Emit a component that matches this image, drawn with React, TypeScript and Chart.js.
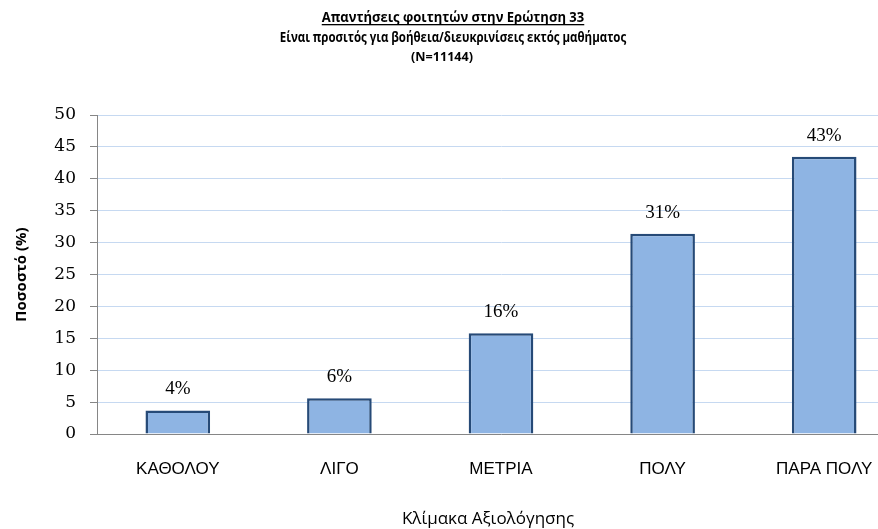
import { useEffect, useRef } from "react";
import { Chart, registerables } from "chart.js";

Chart.register(...registerables);

// Survey answers for question 33 (percent of students)
const categories = ["ΚΑΘΟΛΟΥ", "ΛΙΓΟ", "ΜΕΤΡΙΑ", "ΠΟΛΥ", "ΠΑΡΑ ΠΟΛΥ"];
const percentages = [3.7, 5.6, 15.8, 31.4, 43.45];
const yMin = 0;
const yMax = 50;
const yStep = 5;

const titleMain = "Απαντήσεις φοιτητών στην Ερώτηση 33";
const titleSub = "Είναι προσιτός για βοήθεια/διευκρινίσεις εκτός μαθήματος";
const titleCount = "(N=11144)";
const xAxisTitle = "Κλίμακα Αξιολόγησης";
const yAxisTitle = "Ποσοστό (%)";

const CANVAS_W = 905;
const CANVAS_H = 529;

// Draws text horizontally condensed around its centre, keeping the glyph height
function condensedText(ctx: CanvasRenderingContext2D, text: string, cx: number, y: number, sx: number) {
  ctx.save();
  ctx.translate(cx, y);
  ctx.scale(sx, 1);
  ctx.fillText(text, 0, 0);
  ctx.restore();
}

// Chart heading (three lines, first one underlined) and the category-axis caption
const titleBlock = {
  id: "titleBlock",
  afterDraw(chart: any) {
    const ctx = chart.ctx as CanvasRenderingContext2D;
    const cx = 453;
    ctx.save();
    ctx.fillStyle = "#000";
    ctx.textAlign = "center";
    ctx.textBaseline = "alphabetic";

    ctx.font = "bold 14px 'Open Sans'";
    const sx1 = 0.93;
    condensedText(ctx, titleMain, cx, 22, sx1);
    const w = ctx.measureText(titleMain).width * sx1;
    ctx.fillRect(cx - w / 2, 24, w, 1.3);

    ctx.font = "bold 14px 'Open Sans'";
    condensedText(ctx, titleSub, cx, 42, 0.82);

    ctx.font = "bold 13px 'Open Sans'";
    condensedText(ctx, titleCount, 442, 61, 0.97);

    ctx.font = "17px 'Open Sans'";
    ctx.fillText(xAxisTitle, 488, 524);
    ctx.restore();
  },
};

const valueLabels = {
  id: "valueLabels",
  afterDatasetsDraw(chart: any) {
    const ctx = chart.ctx as CanvasRenderingContext2D;
    const meta = chart.getDatasetMeta(0);
    const values = chart.data.datasets[0].data as number[];
    ctx.save();
    ctx.fillStyle = "#000";
    ctx.font = "19px 'Liberation Serif'";
    ctx.textAlign = "center";
    ctx.textBaseline = "alphabetic";
    meta.data.forEach((bar: any, i: number) => {
      ctx.fillText(Math.round(values[i]) + "%", bar.x, bar.y - 16);
    });
    ctx.restore();
  },
};

export default function App() {
  const canvasRef = useRef<HTMLCanvasElement>(null);

  useEffect(() => {
    const canvas = canvasRef.current;
    if (!canvas) return;
    const chart = new Chart(canvas, {
      type: "bar",
      data: {
        labels: categories,
        datasets: [
          {
            data: percentages,
            backgroundColor: "#8eb4e3",
            borderColor: "#264a77",
            borderWidth: 2.5,
            categoryPercentage: 1,
            barPercentage: 0.4,
          },
        ],
      },
      options: {
        responsive: false,
        animation: false,
        layout: { padding: { top: 115, right: 0, bottom: 0, left: 0 } },
        plugins: {
          legend: { display: false },
          title: { display: false },
          tooltip: { enabled: false },
        },
        scales: {
          x: {
            grid: { display: false },
            border: { display: true, color: "#868686", width: 1 },
            ticks: {
              color: "#000",
              font: { family: "'Liberation Sans'", size: 17 },
              padding: 17,
              maxRotation: 0,
              autoSkip: false,
            },
            afterFit: (scale: any) => {
              scale.height = 95;
            },
          },
          y: {
            min: yMin,
            max: yMax,
            ticks: {
              stepSize: yStep,
              color: "#000",
              font: { family: "'DejaVu Serif'", size: 17 },
              padding: 14,
            },
            grid: {
              color: "#c6d9f1",
              tickColor: "#868686",
              tickLength: 7,
              lineWidth: 1,
            },
            border: { display: true, color: "#868686", width: 1 },
            title: {
              display: true,
              text: yAxisTitle,
              color: "#000",
              font: { family: "'Open Sans'", size: 15, weight: "bold" },
              padding: { top: 13, bottom: 0 },
            },
            afterFit: (scale: any) => {
              scale.width = 97;
            },
          },
        },
      },
      plugins: [titleBlock, valueLabels],
    });
    return () => chart.destroy();
  }, []);

  return (
    <div
      style={{
        position: "absolute",
        left: 0,
        top: 0,
        width: 878,
        height: CANVAS_H,
        overflow: "hidden",
        background: "#fff",
      }}
    >
      <canvas ref={canvasRef} width={CANVAS_W} height={CANVAS_H} />
    </div>
  );
}
